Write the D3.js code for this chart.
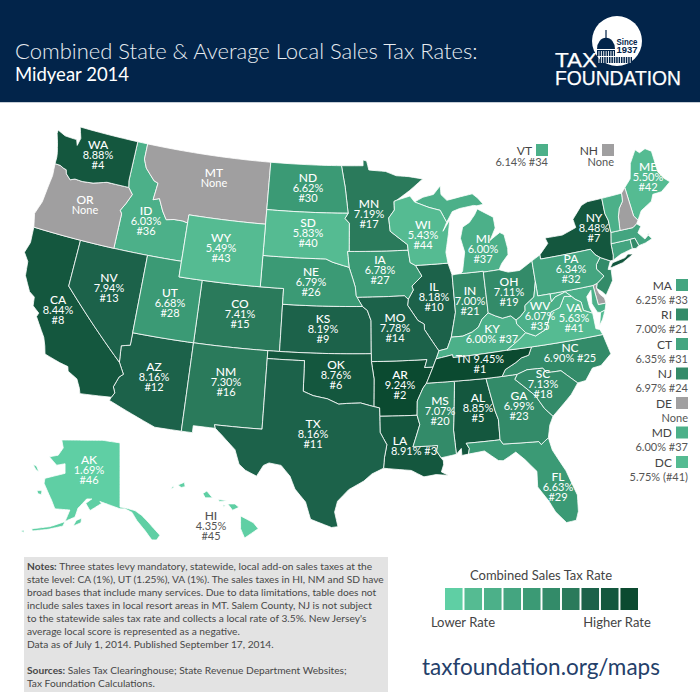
<!DOCTYPE html>
<html><head><meta charset="utf-8">
<script src="https://cdn.jsdelivr.net/npm/d3@7"></script>
<style>html,body{margin:0;padding:0;background:#fff}svg{display:block}text{font-family:Lato,"Open Sans",sans-serif}</style>
</head><body><svg id="c" width="700" height="700"></svg>
<script>
const stateCodes = ["AL","AK","AZ","AR","CA","CO","CT","DE","DC","FL","GA","HI","ID","IL","IN","IA","KS","KY","LA","ME","MD","MA","MI","MN","MS","MO","MT","NE","NV","NH","NJ","NM","NY","NC","ND","OH","OK","OR","PA","RI","SC","SD","TN","TX","UT","VT","VA","WA","WV","WI","WY"];
const stateRates = [8.85,1.69,8.16,9.24,8.44,7.41,6.35,null,5.75,6.63,6.99,4.35,6.03,8.18,7.00,6.78,8.19,6.00,8.91,5.50,6.00,6.25,6.00,7.19,7.07,7.78,null,6.79,7.94,null,6.97,7.30,8.48,6.90,6.62,7.11,8.76,null,6.34,7.00,7.13,5.83,9.45,8.16,6.68,6.14,5.63,8.88,6.07,5.43,5.49];
const stateRanks = [5,46,12,2,8,15,31,null,41,29,23,45,36,10,21,27,9,37,3,42,37,33,37,17,20,14,null,26,13,null,24,16,7,25,30,19,6,null,32,21,18,40,1,11,28,34,41,4,35,44,43];
const legendThresholds = [5,5.9,6.2,6.5,6.85,7.15,7.6,8.3,9];
const legendColors = ["#5fcfa4","#55bb92","#4cb089","#44a580","#3b9a75","#338b69","#2a7a5b","#1c624a","#14573e","#0b4a30"];
const noTaxColor = "#a09fa0";
const sideStates = ["MA","RI","CT","NJ","DE","MD","DC"];
const topStates = ["VT","NH"];
const titleLines = ["Combined State & Average Local Sales Tax Rates:","Midyear 2014"];
const noteLines = [
 [["Notes: ",1],["Three states levy mandatory, statewide, local add-on sales taxes at the",0]],
 [["state level: CA (1%), UT (1.25%), VA (1%). The sales taxes in HI, NM and SD have",0]],
 [["broad bases that include many services. Due to data limitations, table does not",0]],
 [["include sales taxes in local resort areas in MT. Salem County, NJ is not subject",0]],
 [["to the statewide sales tax rate and collects a local rate of 3.5%. New Jersey's",0]],
 [["average local score is represented as a negative.",0]],
 [["Data as of July 1, 2014. Published September 17, 2014.",0]],
 [],
 [["Sources: ",1],["Sales Tax Clearinghouse; State Revenue Department Websites;",0]],
 [["Tax Foundation Calculations.",0]]
];
// ---------- state outlines, longitude / latitude ----------
const outlines = {
WA:[[[-124.7,48.4],[-123.9,48.17],[-123.1,48.15],[-122.75,48.15],[-122.55,47.8],[-122.4,48.3],[-122.76,49],[-117.03,49],[-117.04,46.42],[-116.92,46],[-118.98,46],[-119.3,45.93],[-120.2,45.73],[-121.2,45.65],[-121.9,45.68],[-122.3,45.55],[-122.78,45.85],[-122.9,46.1],[-123.2,46.15],[-123.55,46.26],[-124.05,46.27],[-124.07,46.7],[-124.15,47],[-124.4,47.6],[-124.7,48.17]]],
OR:[[[-124.05,46.27],[-123.55,46.26],[-123.2,46.15],[-122.9,46.1],[-122.78,45.85],[-122.3,45.55],[-121.9,45.68],[-121.2,45.65],[-120.2,45.73],[-119.3,45.93],[-118.98,46],[-116.92,46],[-116.46,45.6],[-116.85,44.95],[-117.22,44.45],[-117.03,44.25],[-117.03,42],[-120,42],[-124.21,42],[-124.5,42.85],[-124.15,43.7],[-124.05,44.7],[-123.95,45.5]]],
CA:[[[-124.21,42],[-120,42],[-120,39],[-114.63,35],[-114.14,34.3],[-114.43,34.08],[-114.72,33.4],[-114.52,33.03],[-114.72,32.72],[-117.12,32.53],[-117.25,32.85],[-117.6,33.4],[-118.4,33.75],[-118.5,34.03],[-119.2,34.15],[-120.47,34.45],[-120.65,34.95],[-120.9,35.45],[-121.9,36.6],[-121.8,36.85],[-122.4,37.2],[-122.5,37.75],[-123,38],[-123.7,38.9],[-123.85,39.8],[-124.35,40.3],[-124.1,41]]],
NV:[[[-120,42],[-117.03,42],[-114.04,42],[-114.04,37],[-114.04,36.2],[-114.74,36.05],[-114.63,35],[-120,39]]],
ID:[[[-117.03,49],[-116.05,49],[-116.05,48],[-115.7,47.45],[-114.75,46.75],[-114.35,46.65],[-114.5,45.55],[-113.95,45.7],[-113.45,44.95],[-113,44.45],[-112.3,44.55],[-111.5,44.55],[-111.05,44.47],[-111.05,42],[-114.04,42],[-117.03,42],[-117.03,44.25],[-117.22,44.45],[-116.85,44.95],[-116.46,45.6],[-116.92,46],[-117.04,46.42]]],
MT:[[[-116.05,49],[-104.05,49],[-104.05,45.94],[-104.05,45],[-111.05,45],[-111.05,44.47],[-111.5,44.55],[-112.3,44.55],[-113,44.45],[-113.45,44.95],[-113.95,45.7],[-114.5,45.55],[-114.35,46.65],[-114.75,46.75],[-115.7,47.45],[-116.05,48]]],
WY:[[[-111.05,45],[-104.05,45],[-104.05,43],[-104.05,41],[-109.05,41],[-111.05,41],[-111.05,42],[-111.05,44.47]]],
UT:[[[-114.04,42],[-111.05,42],[-111.05,41],[-109.05,41],[-109.05,37],[-114.04,37]]],
CO:[[[-109.05,41],[-104.05,41],[-102.05,41],[-102.05,40],[-102.05,37],[-103,37],[-109.05,37]]],
AZ:[[[-114.04,37],[-109.05,37],[-109.05,31.33],[-111.07,31.33],[-114.81,32.5],[-114.72,32.72],[-114.52,33.03],[-114.72,33.4],[-114.43,34.08],[-114.14,34.3],[-114.63,35],[-114.74,36.05],[-114.04,36.2]]],
NM:[[[-109.05,37],[-103,37],[-103,36.5],[-103,32],[-106.62,32],[-106.53,31.78],[-108.21,31.78],[-108.21,31.33],[-109.05,31.33]]],
ND:[[[-104.05,49],[-97.23,49],[-96.85,47.6],[-96.56,45.94],[-104.05,45.94]]],
SD:[[[-104.05,45.94],[-96.56,45.94],[-96.85,45.6],[-96.45,45.3],[-96.45,43.5],[-96.6,43.5],[-96.45,42.49],[-97.9,42.8],[-98.5,43],[-104.05,43]]],
NE:[[[-104.05,43],[-98.5,43],[-97.9,42.8],[-96.45,42.49],[-96.1,41.7],[-95.9,41.2],[-95.85,40.7],[-95.31,40],[-102.05,40],[-102.05,41],[-104.05,41]]],
KS:[[[-102.05,40],[-95.31,40],[-94.9,39.75],[-94.6,39.1],[-94.62,37],[-102.05,37]]],
OK:[[[-103,37],[-102.05,37],[-94.62,37],[-94.62,36.5],[-94.43,35.4],[-94.48,33.64],[-95.5,33.88],[-96.6,33.85],[-97.2,33.8],[-98.1,34.13],[-99.2,34.3],[-100,34.56],[-100,36.5],[-103,36.5]]],
TX:[[[-106.62,32],[-103,32],[-103,36.5],[-100,36.5],[-100,34.56],[-99.2,34.3],[-98.1,34.13],[-97.2,33.8],[-96.6,33.85],[-95.5,33.88],[-94.48,33.64],[-94.04,33.55],[-94.04,33.02],[-94.04,32],[-93.55,31.2],[-93.75,30.4],[-93.84,29.7],[-94.7,29.35],[-95.3,28.9],[-96.4,28.35],[-97.2,27.6],[-97.4,26.9],[-97.15,25.96],[-97.6,25.9],[-99.1,26.4],[-99.5,27.5],[-100.3,28.3],[-100.7,29.1],[-101.4,29.77],[-102.3,29.88],[-102.7,29.7],[-103.15,28.98],[-104,29.3],[-104.5,29.65],[-104.9,30.55],[-106,31.4],[-106.53,31.78]]],
MN:[[[-97.23,49],[-95.15,49],[-95.15,49.38],[-94.8,49.3],[-94.6,48.72],[-93,48.6],[-92,48.3],[-90.8,48.2],[-89.5,48],[-90.8,47.3],[-92.05,46.72],[-92.3,46.65],[-92.3,46.1],[-92.85,45.6],[-92.75,44.75],[-91.25,43.85],[-91.22,43.5],[-96.45,43.5],[-96.45,45.3],[-96.85,45.6],[-96.56,45.94],[-96.85,47.6]]],
IA:[[[-96.6,43.5],[-96.45,43.5],[-91.22,43.5],[-91.1,42.7],[-90.65,42.5],[-90.15,41.8],[-91.05,41.2],[-90.95,40.95],[-91.42,40.38],[-91.73,40.61],[-95.77,40.58],[-95.85,40.7],[-95.9,41.2],[-96.1,41.7],[-96.45,42.49]]],
MO:[[[-95.77,40.58],[-91.73,40.61],[-91.42,40.38],[-91.5,40],[-90.7,39],[-90.2,38.75],[-90.2,38.4],[-89.6,37.6],[-89.15,37],[-89.42,36.5],[-89.7,36],[-90.37,36],[-90.15,36.5],[-94.62,36.5],[-94.62,37],[-94.6,39.1],[-94.9,39.75],[-95.31,40]]],
AR:[[[-94.62,36.5],[-90.15,36.5],[-90.37,36],[-89.7,36],[-90.3,35],[-90.6,34.7],[-91.1,33.9],[-91.17,33],[-94.04,33.02],[-94.04,33.55],[-94.48,33.64],[-94.43,35.4]]],
LA:[[[-94.04,33.02],[-91.17,33],[-91,32.4],[-91.6,31],[-89.75,31],[-89.85,30.65],[-89.55,30.2],[-89.4,30],[-89.4,29.75],[-89.6,29.3],[-89.1,29.05],[-90,29.15],[-90.9,29.05],[-91.8,29.5],[-92.3,29.55],[-93.84,29.7],[-93.75,30.4],[-93.55,31.2],[-94.04,32]]],
MS:[[[-90.3,35],[-88.2,35],[-88.1,34.9],[-88.47,31.9],[-88.4,30.35],[-89.55,30.2],[-89.85,30.65],[-89.75,31],[-91.6,31],[-91,32.4],[-91.17,33],[-91.1,33.9],[-90.6,34.7]]],
AL:[[[-88.2,35],[-85.6,34.98],[-85.18,32.87],[-85,32.3],[-85.05,31],[-87.6,31],[-87.4,30.65],[-87.5,30.3],[-88,30.25],[-88,30.7],[-88.4,30.35],[-88.47,31.9],[-88.1,34.9]]],
GA:[[[-85.6,34.98],[-84.32,34.99],[-83.1,35],[-83.35,34.7],[-82.75,34.2],[-81.95,33.5],[-81.4,32.6],[-80.85,32.03],[-81.2,31.5],[-81.45,30.72],[-82.05,30.36],[-82.2,30.57],[-84.86,30.71],[-85.05,31],[-85,32.3],[-85.18,32.87]]],
FL:[[[-87.6,31],[-85.05,31],[-84.86,30.71],[-82.2,30.57],[-82.05,30.36],[-81.45,30.72],[-81.3,29.9],[-80.55,28.45],[-80.03,26.8],[-80.15,25.75],[-80.4,25.2],[-81.1,25.15],[-81.75,25.95],[-82.1,26.7],[-82.75,27.7],[-82.65,28.7],[-83.4,29.55],[-84,30.1],[-85,29.65],[-85.35,29.7],[-86.3,30.4],[-87.5,30.3],[-87.4,30.65]]],
SC:[[[-83.1,35],[-82.3,35.2],[-81.05,35.15],[-80.8,34.82],[-79.67,34.8],[-78.55,33.85],[-79.2,33.2],[-79.9,32.7],[-80.85,32.03],[-81.4,32.6],[-81.95,33.5],[-82.75,34.2],[-83.35,34.7]]],
NC:[[[-84.32,34.99],[-83.1,35],[-82.3,35.2],[-81.05,35.15],[-80.8,34.82],[-79.67,34.8],[-78.55,33.85],[-77.9,33.9],[-77.2,34.6],[-76.5,34.65],[-75.55,35.25],[-75.85,36.55],[-81.68,36.59],[-82,36.1],[-82.6,36],[-83.1,35.75],[-84,35.4]]],
TN:[[[-90.3,35],[-88.2,35],[-85.6,34.98],[-84.32,34.99],[-84,35.4],[-83.1,35.75],[-82.6,36],[-82,36.1],[-81.68,36.59],[-83.68,36.6],[-88.05,36.5],[-88.07,36.68],[-89.42,36.5],[-89.7,36]]],
KY:[[[-89.42,36.5],[-88.07,36.68],[-88.05,36.5],[-83.68,36.6],[-82.6,37.15],[-81.97,37.54],[-82.6,38.17],[-82.6,38.42],[-83,38.73],[-83.7,38.65],[-84.25,38.85],[-84.82,39.1],[-85.4,38.73],[-85.75,38.27],[-86.3,38],[-87.1,37.8],[-88.05,37.8],[-88.45,37.1],[-89.15,37]]],
VA:[[[-83.68,36.6],[-81.68,36.59],[-75.85,36.55],[-76,36.9],[-76.3,37],[-76.3,37.6],[-76.3,38],[-77,38.3],[-77.05,38.85],[-77.5,39.1],[-77.75,39.32],[-78.35,39.4],[-78.87,38.76],[-79.65,38.58],[-80.3,37.55],[-81.22,37.24],[-81.97,37.54],[-82.6,37.15]],[[-75.95,37.15],[-75.65,37.95],[-75.25,38.03],[-75.6,37.5]]],
WV:[[[-81.97,37.54],[-81.22,37.24],[-80.3,37.55],[-79.65,38.58],[-78.87,38.76],[-78.35,39.4],[-77.75,39.32],[-78.2,39.68],[-78.4,39.62],[-79.1,39.47],[-79.48,39.2],[-79.48,39.72],[-80.52,39.72],[-80.52,40.64],[-80.85,39.7],[-81.7,39.25],[-81.75,38.93],[-82.2,38.6],[-82.6,38.42],[-82.6,38.17]]],
OH:[[[-84.82,41.7],[-83.45,41.73],[-82.7,41.5],[-81.7,41.5],[-80.52,41.98],[-80.52,40.64],[-80.85,39.7],[-81.7,39.25],[-81.75,38.93],[-82.2,38.6],[-82.6,38.42],[-83,38.73],[-83.7,38.65],[-84.25,38.85],[-84.82,39.1]]],
IN:[[[-87.53,41.72],[-87.2,41.75],[-86.8,41.76],[-84.82,41.76],[-84.82,41.7],[-84.82,39.1],[-85.4,38.73],[-85.75,38.27],[-86.3,38],[-87.1,37.8],[-88.05,37.8],[-87.53,39.35]]],
IL:[[[-90.65,42.5],[-87.8,42.5],[-87.53,41.72],[-87.53,39.35],[-88.05,37.8],[-88.45,37.1],[-89.15,37],[-89.6,37.6],[-90.2,38.4],[-90.2,38.75],[-90.7,39],[-91.5,40],[-91.42,40.38],[-90.95,40.95],[-91.05,41.2],[-90.15,41.8]]],
WI:[[[-92.05,46.72],[-90.8,46.95],[-90.4,46.55],[-89.1,46.14],[-88.1,45.9],[-87.6,45.1],[-88,44.55],[-87.3,45.25],[-87.55,44.3],[-87.9,43.2],[-87.8,42.5],[-90.65,42.5],[-91.1,42.7],[-91.22,43.5],[-91.25,43.85],[-92.75,44.75],[-92.85,45.6],[-92.3,46.1],[-92.3,46.65]]],
MI:[[[-86.8,41.76],[-84.82,41.76],[-84.82,41.7],[-83.45,41.73],[-83.15,42.1],[-82.5,42.6],[-82.45,43],[-82.6,43.9],[-82.95,44.07],[-83.35,43.9],[-83.9,43.65],[-83.3,44.4],[-83.35,45.1],[-84.7,45.75],[-85,45.4],[-85.55,44.95],[-86.2,44.7],[-86.5,44],[-86.25,43.1],[-86.6,41.9]],[[-90.4,46.55],[-89.1,46.14],[-88.1,45.9],[-87.6,45.1],[-87,45.75],[-86.3,45.9],[-85,46],[-84.7,45.95],[-84.1,46],[-84.55,46.45],[-85,46.75],[-86.1,46.65],[-87.4,46.5],[-87.9,46.9],[-87.9,47.47],[-88.6,46.95],[-89.6,46.82]]],
NY:[[[-79.76,42.27],[-78.9,42.9],[-79.05,43.27],[-77.5,43.25],[-76.2,43.55],[-76.3,44.1],[-75.3,44.85],[-74.7,45],[-73.35,45],[-73.4,44],[-73.25,43.55],[-73.28,42.75],[-73.5,42.05],[-73.55,41.3],[-73.65,41],[-73.9,41],[-74.7,41.36],[-75.05,41.6],[-75.35,42],[-79.76,42]],[[-74.03,40.6],[-73.75,40.85],[-72.6,40.98],[-72.3,41.15],[-71.87,41.07],[-72.9,40.7],[-73.9,40.57]]],
PA:[[[-80.52,41.98],[-79.76,42.27],[-79.76,42],[-75.35,42],[-75.05,41.6],[-74.7,41.36],[-75.13,40.97],[-75.2,40.68],[-74.72,40.15],[-75.4,39.8],[-75.79,39.72],[-79.48,39.72],[-80.52,39.72],[-80.52,40.64]]],
NJ:[[[-74.7,41.36],[-73.9,41],[-74.25,40.5],[-74,40.45],[-74.1,39.75],[-74.9,38.93],[-75.15,39.2],[-75.55,39.5],[-75.4,39.8],[-74.72,40.15],[-75.2,40.68],[-75.13,40.97]]],
DE:[[[-75.79,39.72],[-75.4,39.8],[-75.55,39.5],[-75.4,39.1],[-75.08,38.79],[-75.05,38.45],[-75.7,38.46]]],
MD:[[[-79.48,39.72],[-75.79,39.72],[-75.7,38.46],[-75.05,38.45],[-75.25,38.03],[-75.65,37.95],[-75.9,38],[-76.2,38.6],[-76.05,39.45],[-76.5,39.1],[-76.45,38.4],[-76.3,38],[-77,38.3],[-77.05,38.85],[-77.5,39.1],[-77.75,39.32],[-78.2,39.68],[-78.4,39.62],[-79.1,39.47],[-79.48,39.2]]],
DC:[[[-77.12,38.93],[-77.04,38.99],[-76.91,38.89],[-77.04,38.8]]],
CT:[[[-73.5,42.05],[-71.8,42.02],[-71.8,41.42],[-72.9,41.25],[-73.65,41],[-73.55,41.3]]],
RI:[[[-71.8,42.02],[-71.38,42.02],[-71.2,41.5],[-71.5,41.37],[-71.8,41.42]]],
MA:[[[-73.28,42.75],[-72.46,42.73],[-71.3,42.7],[-70.9,42.88],[-70.6,42.65],[-71,42.3],[-70.55,41.8],[-70.05,42.05],[-70.25,42.07],[-69.95,41.7],[-70.6,41.55],[-71.12,41.5],[-71.2,41.5],[-71.38,42.02],[-71.8,42.02],[-73.5,42.05]]],
VT:[[[-73.35,45],[-71.5,45.01],[-71.6,44.5],[-72.05,44.1],[-72.3,43.6],[-72.46,42.73],[-73.28,42.75],[-73.25,43.55],[-73.4,44]]],
NH:[[[-71.5,45.01],[-71.08,45.3],[-70.98,43.4],[-70.7,43.07],[-70.9,42.88],[-71.3,42.7],[-72.46,42.73],[-72.3,43.6],[-72.05,44.1],[-71.6,44.5]]],
ME:[[[-71.08,45.3],[-70.4,45.75],[-70,46.7],[-69.23,47.46],[-68.9,47.2],[-68.3,47.35],[-67.79,47.07],[-67.79,45.7],[-67.45,45.2],[-67,44.85],[-68,44.4],[-68.8,44.4],[-69.1,44],[-70.2,43.6],[-70.7,43.07],[-70.98,43.4]]],
AK:[[[-160.4,69.64],[-146.7,69.6],[-141,69.3],[-141,60.3],[-138.8,60.1],[-136,59.7],[-133.8,58.9],[-131.6,57.7],[-127.7,55.3],[-128.8,54.4],[-130.4,54.4],[-132.7,56.2],[-135.4,58],[-137,59.4],[-139.3,60],[-141,60],[-144.3,60.6],[-147.7,61.2],[-147.1,60.9],[-151,59.7],[-152.4,60.9],[-150.4,61.6],[-152.1,61.6],[-155,60.1],[-156,58.6],[-159.9,57.7],[-164.3,56.9],[-170.4,56.5],[-170.2,56.1],[-165,56.4],[-160,57],[-157.7,59.8],[-162.7,60],[-163.8,61.4],[-166.3,64],[-166,64.7],[-163.2,65],[-159.3,65.4],[-159.3,66.7],[-162.1,66.5],[-164.5,67.6],[-161.6,67.8],[-159.9,68.7]],[[-156.6,57],[-155.6,58],[-153.8,58.4],[-154,57.6]],[[-170,66.6],[-168.8,66.4],[-168,65.6],[-169,65.9]],[[-168.7,62.9],[-167,62.9],[-167.2,62.3],[-168.3,62.4]],[[-174,56.1],[-173,56.3],[-173,55.8]]],
HI:[[[-155.9,20.25],[-155.1,19.85],[-154.8,19.5],[-155.65,18.95],[-155.9,19.5]],[[-156.7,20.95],[-156.25,20.95],[-156,20.75],[-156.4,20.58]],[[-157.3,21.2],[-156.7,21.15],[-157.2,21.08]],[[-158.25,21.55],[-158,21.7],[-157.65,21.3],[-158.1,21.3]],[[-159.8,22.05],[-159.4,22.2],[-159.35,21.95],[-159.6,21.9]],[[-160.25,21.8],[-160.1,22],[-160.05,21.9]],[[-157,20.9],[-156.85,20.85],[-156.95,20.75]]]
};
// ---------- annotation anchors ----------
const labelSpots = {WA:[98,145],OR:[85,200],MT:[214,173],ID:[146,211],WY:[221,238],NV:[109,278],CA:[58,300],UT:[170,293],CO:[240,304],AZ:[154,367],NM:[226,372],ND:[308,178],SD:[308,223],NE:[311,272],MN:[369,204],IA:[380,260],WI:[423,225],MI:[483,239],IL:[434,287],IN:[470,291],MO:[395,318],KS:[323,319],OK:[336,365],TX:[313,424],AR:[400,375],LA:[400,441],MS:[440,401],AL:[478,398],TN:[480,359],KY:[492,329],GA:[519,396],SC:[543,374],NC:[570,348],FL:[558,477],OH:[509,282],PA:[571,259],WV:[540,306],VA:[574,308],NY:[594,218],ME:[648,167],AK:[89,460],HI:[211,516]};
const oneLineRate = ["KY","NC","LA"];

const svg = d3.select("#c");
const byCode = new Map(stateCodes.map((c,i)=>[c,{code:c,rate:stateRates[i],rank:stateRanks[i]}]));
const color = d3.scaleThreshold().domain(legendThresholds).range(legendColors);
const fillOf = d => d.rate===null ? noTaxColor : color(d.rate);
const rateText = d => d3.format(".2f")(d.rate)+"%";
const rankText = d => d.code==="DC" ? "(#"+d.rank+")" : "#"+d.rank;
const navy = "#02244a";

// header
svg.append("rect").attr("width",700).attr("height",102).attr("fill",navy);
svg.append("rect").attr("y",102).attr("width",700).attr("height",1).attr("fill","#c6ced6");
svg.append("text").attr("x",15).attr("y",59).attr("fill","#e8edf2").attr("font-size",22).attr("font-weight",300).text(titleLines[0]);
svg.append("text").attr("x",15).attr("y",81).attr("fill","#fff").attr("font-size",18.5).text(titleLines[1]);

// logo
const logo = svg.append("g");
logo.append("circle").attr("cx",617).attr("cy",41).attr("r",25).attr("fill","#fff");
logo.append("path").attr("fill",navy).attr("transform","translate(606,49) scale(1,1.25)")
  .attr("d",d3.arc()({innerRadius:0,outerRadius:9,startAngle:-Math.PI/2,endAngle:Math.PI/2}));
logo.append("rect").attr("x",605.4).attr("y",30).attr("width",1.2).attr("height",9).attr("fill",navy);
logo.append("rect").attr("x",597).attr("y",50).attr("width",18).attr("height",6).attr("fill",navy);
logo.append("rect").attr("x",600).attr("y",57).attr("width",32).attr("height",6).attr("fill",navy);
logo.selectAll("rect.col").data(d3.range(598.5,632,2.4)).join("rect").attr("class","col")
  .attr("x",d=>d).attr("y",51).attr("width",0.9).attr("height",12).attr("fill","#fff");
[["Since",44.5],["1937",53]].forEach(([t,y])=>logo.append("text").attr("x",627).attr("y",y).attr("text-anchor","middle")
  .attr("fill",navy).attr("font-size",9.5).attr("font-weight",700).attr("style","font-family:'Liberation Sans'")
  .attr("textLength",21).attr("lengthAdjust","spacingAndGlyphs").text(t));
[["TAX",67,42,19.5],["FOUNDATION",85,126,20.5]].forEach(([t,y,w,s])=>logo.append("text").attr("x",555).attr("y",y)
  .attr("fill","#fff").attr("stroke","#fff").attr("stroke-width",0.25).attr("font-size",s).attr("style","font-family:'Liberation Sans'")
  .attr("textLength",w).attr("lengthAdjust","spacingAndGlyphs").text(t));

// projections: lower 48 and the two insets
const mainProj = d3.geoAlbers().scale(895).translate([347,327]);
const akProj = d3.geoMercator().center([-141,60.3]).scale(172).translate([120,507]);
const hiProj = d3.geoMercator().center([-155.5,19.6]).scale(920).translate([247,527]);
const projFor = c => c==="AK"?akProj : c==="HI"?hiProj : mainProj;

// Edges between outline vertices follow the map grid, not great circles.
function gridRing(ring){
  const out=[], step=0.5;
  ring.concat([ring[0]]).forEach((p,i,a)=>{
    if(i===0){out.push(p);return;}
    const q=a[i-1], n=Math.max(1,Math.ceil(Math.max(Math.abs(p[0]-q[0]),Math.abs(p[1]-q[1]))/step));
    for(let k=1;k<=n;k++){const t=k/n;out.push([q[0]+(p[0]-q[0])*t,q[1]+(p[1]-q[1])*t]);}
  });
  return d3.geoArea({type:"Polygon",coordinates:[out]})>2*Math.PI ? out.reverse() : out;
}
const features = stateCodes.map(c=>({type:"Feature",properties:byCode.get(c),
  geometry:{type:"MultiPolygon",coordinates:outlines[c].map(r=>[gridRing(r)])}}));
svg.append("g").selectAll("path").data(features).join("path")
  .attr("d",f=>d3.geoPath(projFor(f.properties.code))(f))
  .attr("fill",f=>fillOf(f.properties))
  .attr("stroke","#fff").attr("stroke-width",0.8).attr("stroke-linejoin","round");

// state labels: each label is one text element with one tspan per line
function lines(d){
  if(d.code==="TN") return [["TN "+rateText(d),0,0],["#"+d.rank,0,0]];
  if(d.rate===null) return [[d.code,0,1],["None",0,0]];
  if(oneLineRate.includes(d.code)) return [[d.code,0,1],[rateText(d)+" "+rankText(d),d.code==="LA"?14:0,0]];
  return [[d.code,0,1],[rateText(d),0,0],[rankText(d),0,0]];
}
const labels = svg.append("g");
Object.keys(labelSpots).forEach(c=>{
  const d=byCode.get(c), [x,y]=labelSpots[c];
  const t=labels.append("text").attr("text-anchor","middle").attr("fill",c==="HI"?"#555":"#fff");
  lines(d).forEach(([s,dx,isCode],i)=>{
    t.append("tspan").attr("x",x+dx).attr("y",y+i*10.2+4)
      .attr("font-size",isCode?12:11).attr("font-weight",isCode?500:400).text(s);
  });
});

// outside keys
const sideY = d3.scalePoint().domain(sideStates).range([285,462]);
function keyEntry(d,right,y,subGap){
  svg.append("rect").attr("x",right-12).attr("y",y-6).attr("width",12).attr("height",12).attr("fill",fillOf(d));
  svg.append("text").attr("x",right-16).attr("y",y+4.5).attr("text-anchor","end").attr("fill","#444").attr("font-size",12).text(d.code);
  svg.append("text").attr("x",right).attr("y",y+subGap+4).attr("text-anchor","end").attr("fill","#555").attr("font-size",11)
    .text(d.rate===null?"None":rateText(d)+" "+rankText(d));
}
sideStates.forEach(c=>keyEntry(byCode.get(c),688,sideY(c),14.5));
topStates.forEach((c,i)=>keyEntry(byCode.get(c),[548,614][i],150,12));

// notes
svg.append("rect").attr("x",24).attr("y",557).attr("width",364).attr("height",135).attr("fill","#e3e3e3");
const noteY = d3.scaleLinear().domain([0,9]).range([570,687]);
noteLines.forEach((parts,i)=>{
  const t=svg.append("text").attr("x",27).attr("y",noteY(i)).attr("fill","#484848").attr("font-size",10.2);
  parts.forEach(([s,b])=>t.append("tspan").attr("font-weight",b?700:400).text(s));
});

// scale legend
const swatch = d3.scaleBand().domain(d3.range(legendColors.length)).range([445,638]).paddingInner(0.1);
svg.append("g").selectAll("rect").data(legendColors).join("rect")
  .attr("x",(d,i)=>swatch(i)).attr("y",588).attr("width",swatch.bandwidth()).attr("height",22).attr("fill",d=>d);
svg.append("text").attr("x",541).attr("y",580).attr("text-anchor","middle").attr("fill","#444").attr("font-size",13).text("Combined Sales Tax Rate");
svg.append("text").attr("x",463).attr("y",627).attr("text-anchor","middle").attr("fill","#444").attr("font-size",13).text("Lower Rate");
svg.append("text").attr("x",617).attr("y",627).attr("text-anchor","middle").attr("fill","#444").attr("font-size",13).text("Higher Rate");
svg.append("text").attr("x",422).attr("y",675).attr("fill","#24406a").attr("font-size",22.5).text("taxfoundation.org/maps");
</script></body></html>
